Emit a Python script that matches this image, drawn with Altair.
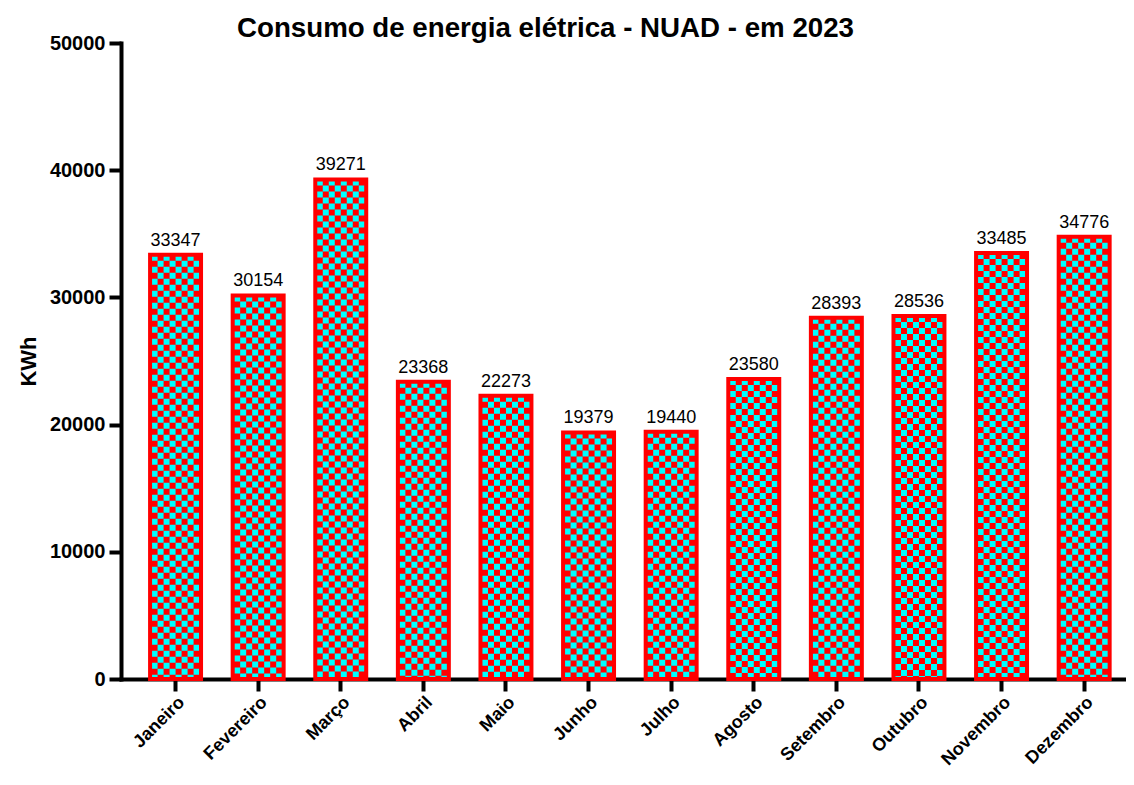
import altair as alt
import pandas as pd

months = ["Janeiro", "Fevereiro", "Março", "Abril", "Maio", "Junho", "Julho",
          "Agosto", "Setembro", "Outubro", "Novembro", "Dezembro"]
values = [33347, 30154, 39271, 23368, 22273, 19379, 19440, 23580, 28393, 28536, 33485, 34776]
y_ticks = [0, 10000, 20000, 30000, 40000, 50000]
pattern_cols = list(range(8))  # checker columns inside each bar (pattern styling)

df = pd.DataFrame({"mes": months, "kwh": values})
pat = pd.DataFrame([{"mes": m, "kwh": v, "col": c} for m, v in zip(months, values) for c in pattern_cols])

FONT = "Liberation Sans"
RED = "#FF0000"
CYAN = "#00FFFF"

xscale = alt.Scale(domain=months, paddingInner=0.383, paddingOuter=0.275, align=0.64)
yscale = alt.Scale(domain=[0, 50000], nice=False, zero=True)

x_axis = alt.Axis(labelAngle=-45, labelFont=FONT, labelFontSize=18, labelFontWeight="bold",
                  labelColor="black", domainColor="black", domainWidth=4,
                  tickColor="black", tickWidth=4, tickSize=12, labelPadding=2,
                  domainCap="square", grid=False)
y_axis = alt.Axis(values=y_ticks, format="d", labelFont=FONT, labelFontSize=20,
                  labelFontWeight="bold", labelColor="black", domainColor="black",
                  domainWidth=4, tickColor="black", tickWidth=4, tickSize=12,
                  labelPadding=4, titleFont=FONT, titleFontSize=22,
                  titleFontWeight="bold", titleColor="black", titlePadding=9,
                  grid=False, domainCap="square")

X = lambda: alt.X("mes:N", sort=months, scale=xscale, title=None, axis=x_axis)
Y = lambda: alt.Y("kwh:Q", scale=yscale, title="KWh", axis=y_axis)

base = alt.Chart(df)

bars_fill = base.mark_bar(color=RED, strokeWidth=0).encode(x=X(), y=Y())

pbase = alt.Chart(pat)
off = alt.XOffset("col:O", scale=alt.Scale(range=[1.5, 49.5], paddingInner=0, paddingOuter=0))
even = pbase.transform_filter("datum.col % 2 == 0").mark_rule(
    color=CYAN, strokeWidth=6, strokeDash=[6, 6], strokeDashOffset=0, strokeCap="butt"
).encode(x=X(), xOffset=off, y=Y(), y2=alt.datum(0))
odd = pbase.transform_filter("datum.col % 2 == 1").mark_rule(
    color=CYAN, strokeWidth=6, strokeDash=[6, 6], strokeDashOffset=6, strokeCap="butt"
).encode(x=X(), xOffset=off, y=Y(), y2=alt.datum(0))

bars_border = base.mark_bar(fillOpacity=0, stroke=RED, strokeWidth=4).encode(x=X(), y=Y())

labels = base.mark_text(font=FONT, fontSize=18, color="black", baseline="bottom", dy=-5).encode(
    x=X(), y=Y(), text=alt.Text("kwh:Q", format="d"))

chart = alt.layer(bars_fill, even, odd, bars_border, labels).properties(
    width=1005, height=636,
    background="white",
    title=alt.TitleParams("Consumo de energia elétrica - NUAD - em 2023", font=FONT, fontSize=27.7,
                          fontWeight="bold", color="black", anchor="start", frame="group",
                          dx=116, offset=-10),
    autosize=alt.AutoSizeParams(type="none"),
    padding={"left": 113, "top": 35, "right": 0, "bottom": 90},
).configure_view(strokeWidth=0, stroke="transparent").configure_axis(grid=False)

chart.save("out.html", embed_options={"renderer": "svg", "actions": False})
